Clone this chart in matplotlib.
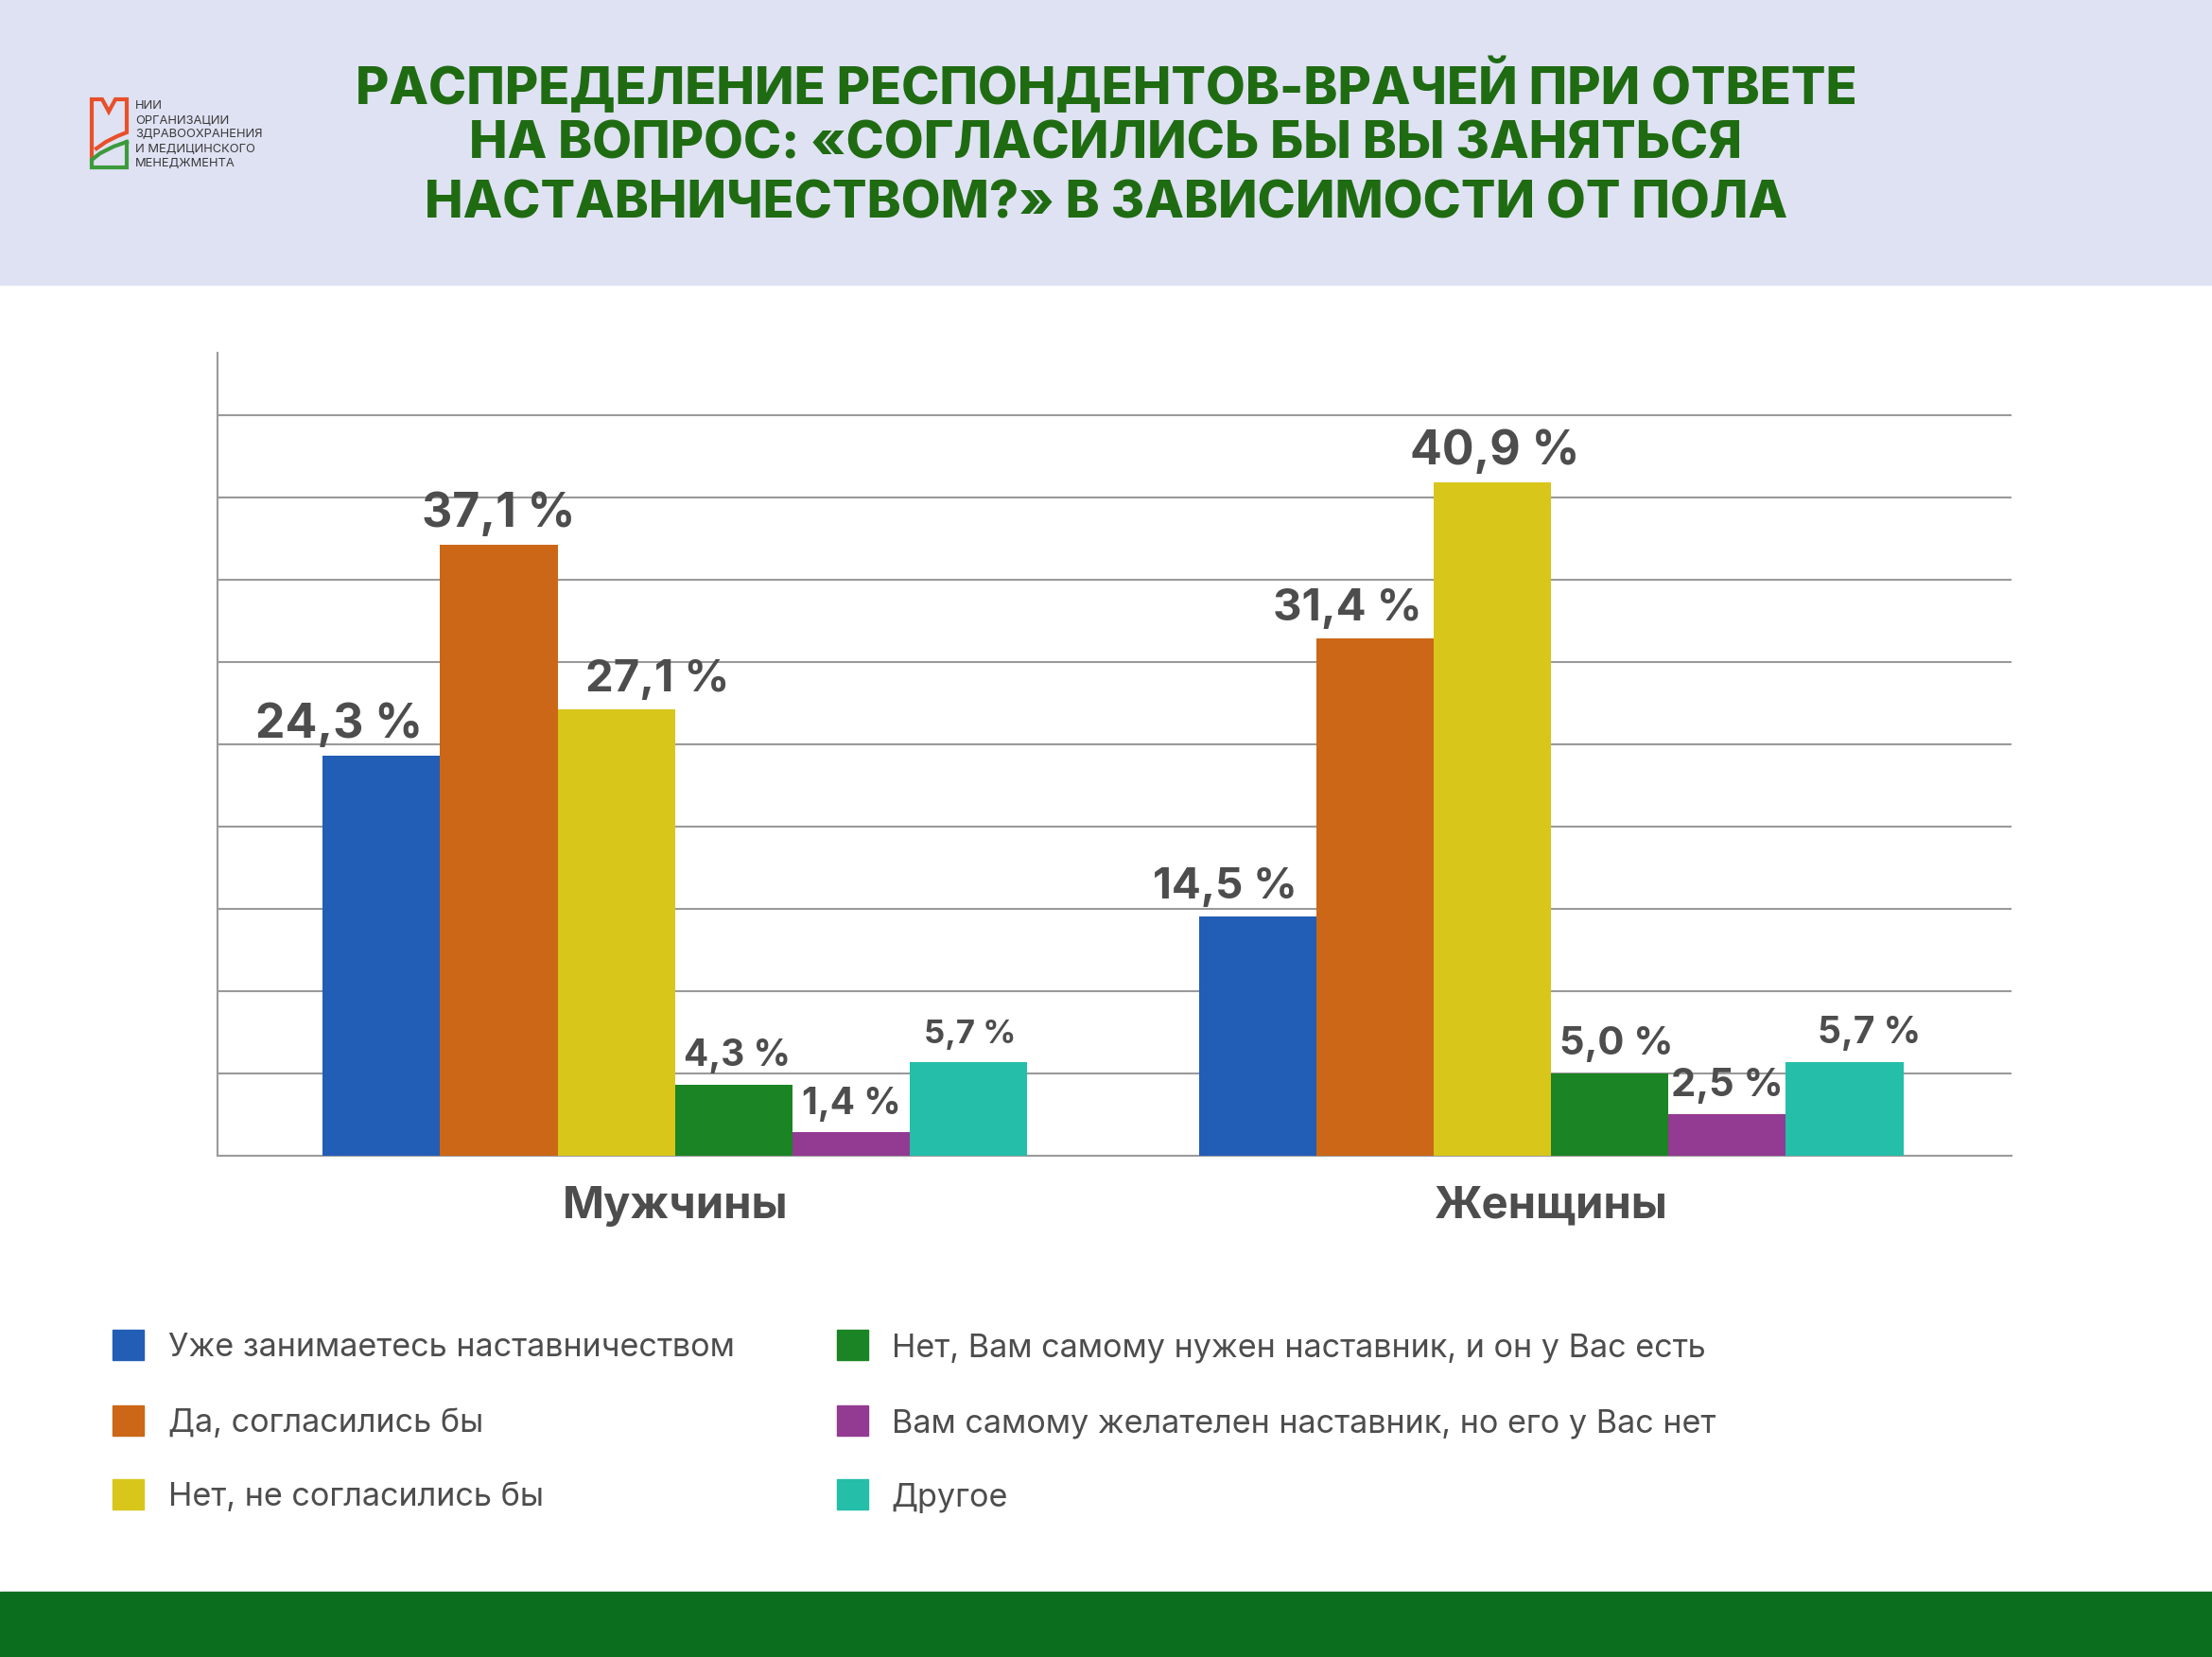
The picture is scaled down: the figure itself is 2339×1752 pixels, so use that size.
import matplotlib.pyplot as plt
from matplotlib.patches import Rectangle
from matplotlib.lines import Line2D
import numpy as np

plt.rcParams['font.family'] = 'Inter'

# data
groups = ['Мужчины', 'Женщины']
answers = ['Уже занимаетесь наставничеством', 'Да, согласились бы', 'Нет, не согласились бы',
           'Нет, Вам самому нужен наставник, и он у Вас есть',
           'Вам самому желателен наставник, но его у Вас нет', 'Другое']
men = [24.3, 37.1, 27.1, 4.3, 1.4, 5.7]
women = [14.5, 31.4, 40.9, 5.0, 2.5, 5.7]

colors = ['#225db6', '#cb6717', '#d8c61a', '#1b8424', '#933a92', '#24bea9']
# label styling (size, x shift in points)
lab_size = [[36, 36, 34, 28, 28, 25], [33, 34, 36, 30, 30, 28]]
lab_dx = [[-32, 0, 31, 3, 0, 1], [-25, -21, 2, 5, 0, 19]]

W, H = 2339, 1752
fig = plt.figure(figsize=(W / 100, H / 100), dpi=100)
fig.patch.set_facecolor('white')


def fx(px):
    return px / W


def fy(py):
    return 1 - py / H


# header and footer bands
fig.patches.append(Rectangle((0, fy(301)), 1, 301 / H, transform=fig.transFigure,
                             color='#dfe2f3', zorder=0))
fig.patches.append(Rectangle((0, 0), 1, (H - 1683) / H, transform=fig.transFigure,
                             color='#0b6e1f', zorder=0))

title = ('РАСПРЕДЕЛЕНИЕ РЕСПОНДЕНТОВ-ВРАЧЕЙ ПРИ ОТВЕТЕ\n'
         'НА ВОПРОС: «СОГЛАСИЛИСЬ БЫ ВЫ ЗАНЯТЬСЯ\n'
         'НАСТАВНИЧЕСТВОМ?» В ЗАВИСИМОСТИ ОТ ПОЛА')
for k, line in enumerate(title.split('\n')):
    fig.text(0.5, fy(85 + 62.7 * k), line, ha='center', va='center_baseline',
             fontsize=39, fontweight='heavy', color='#1f6b12')

# logo
orange = [(97, 170), (97, 105), (108, 105), (115, 118), (122, 105), (134, 105),
          (134, 140), (124, 144), (112, 150), (102, 157)]
green = [(134, 150), (120, 155), (106, 162), (97, 169), (97, 177), (134, 177), (134, 150)]
for pts, c in [(orange, '#e8502a'), (green, '#3c9a3c')]:
    fig.add_artist(Line2D([fx(p[0]) for p in pts], [fy(p[1]) for p in pts],
                          transform=fig.transFigure, color=c, lw=3, solid_joinstyle='miter'))
logo_lines = ['НИИ', 'ОРГАНИЗАЦИИ', 'ЗДРАВООХРАНЕНИЯ', 'И МЕДИЦИНСКОГО', 'МЕНЕДЖМЕНТА']
for k, line in enumerate(logo_lines):
    fig.text(fx(143), fy(112 + 15.2 * k), line, ha='left', va='center',
             fontsize=9.3, color='#3a3a3a')

# chart
ax = fig.add_axes([0.0982, 0.3027, 0.8113, 0.4845])
x = np.arange(len(groups))
width = 0.134
for i in range(len(answers)):
    vals = [men[i], women[i]]
    pos = x + (i - 2.5) * width
    ax.bar(pos, vals, width, color=colors[i], zorder=3, label=answers[i])
    for g in range(len(groups)):
        ax.annotate(f'{vals[g]:.1f} %'.replace('.', ','), xy=(pos[g], vals[g]),
                    xytext=(lab_dx[g][i], 14), textcoords='offset points',
                    ha='center', va='baseline', fontsize=lab_size[g][i],
                    fontweight='bold', color='#4d4d4d', zorder=4)

ax.set_xlim(-0.5225, 1.5258)
ax.set_ylim(0, 48.8)
ax.set_yticks(np.arange(5, 50, 5))
ax.yaxis.grid(True, color='#9a9a9a', lw=1.5)
ax.set_axisbelow(True)
ax.tick_params(axis='y', length=0, labelleft=False)
ax.set_xticks(x, groups)
ax.tick_params(axis='x', length=0, pad=23, labelsize=34, labelcolor='#4d4d4d')
for lbl in ax.get_xticklabels():
    lbl.set_fontweight('bold')
for s in ['top', 'right']:
    ax.spines[s].set_visible(False)
for s in ['left', 'bottom']:
    ax.spines[s].set_color('#9a9a9a')
    ax.spines[s].set_linewidth(1.5)

# legend
for i, name in enumerate(answers):
    col, row = i // 3, i % 3
    sx = [119, 884.6][col]
    tx = [177.5, 942.7][col]
    cy = [1422, 1502, 1580][row]
    fig.patches.append(Rectangle((fx(sx), fy(cy + 16)), 33 / W, 32 / H,
                                 transform=fig.transFigure, color=colors[i]))
    fig.text(fx(tx), fy(cy), name, ha='left', va='center_baseline',
             fontsize=24.6, color='#4d4d4d')

plt.savefig('out.png', dpi=100)
